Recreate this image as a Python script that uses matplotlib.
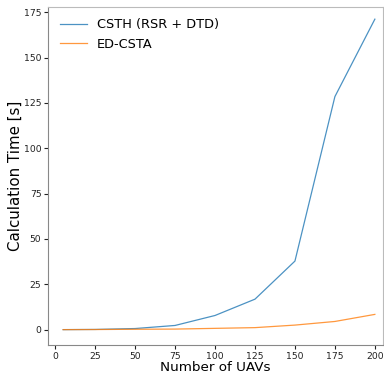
import matplotlib.pyplot as plt

uavs = [5, 25, 50, 75, 100, 125, 150, 175, 200]
csth = [0.0, 0.1, 0.6, 2.3, 7.8, 16.8, 37.8, 128.5, 171.2]
edcsta = [0.0, 0.05, 0.2, 0.3, 0.7, 1.1, 2.5, 4.5, 8.4]

fig, ax = plt.subplots(figsize=(3.84, 3.8), dpi=100)
ax.plot(uavs, csth, color='#1f77b4', linewidth=0.9, alpha=0.8, label='CSTH (RSR + DTD)')
ax.plot(uavs, edcsta, color='#ff7f0e', linewidth=0.9, alpha=0.8, label='ED-CSTA')

ax.set_xlabel('Number of UAVs', fontsize=9.7, labelpad=0)
ax.set_ylabel('Calculation Time [s]', fontsize=10.8, labelpad=1)
ax.set_xticks([0, 25, 50, 75, 100, 125, 150, 175, 200])
ax.set_yticks([0, 25, 50, 75, 100, 125, 150, 175])
ax.tick_params(labelsize=6.7, colors='#222222', length=3, pad=1.8)
ax.set_ylim(-8.5, 178)
ax.set_xlim(-4.5, 205)
for s in ax.spines.values():
    s.set_color('#bbbbbb')
ax.spines['left'].set_color('#888888')
ax.spines['bottom'].set_color('#888888')
ax.legend(fontsize=9.3, frameon=False, loc='upper left', handlelength=2.1)

plt.subplots_adjust(left=0.125, right=0.997, top=0.982, bottom=0.092)
plt.savefig('out.png')
